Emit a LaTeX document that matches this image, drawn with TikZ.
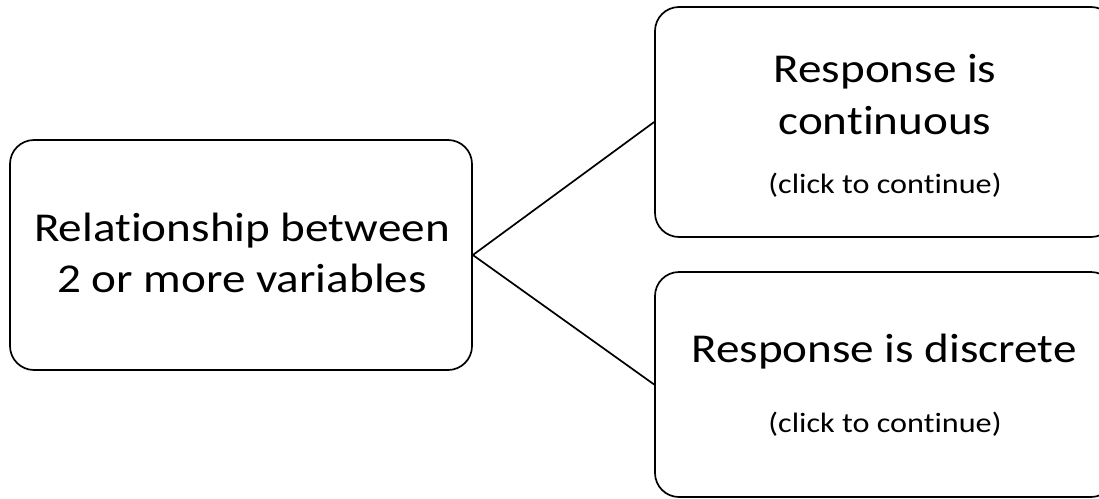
\documentclass[tikz,border=0pt]{standalone}
\usepackage{fontspec}
\setmainfont{Carlito}[Ligatures=NoCommon]
\newfontfamily\widefont{Carlito}[FakeStretch=1.15, Ligatures=NoCommon]
\begin{document}
\begin{tikzpicture}[x=1pt,y=-1pt,
  box/.style={draw, line width=1.7pt, rounded corners=24pt, inner sep=0pt},
  bigtxt/.style={anchor=base, align=center, inner sep=0pt, font=\widefont\fontsize{41}{51}\selectfont},
  smalltxt/.style={anchor=base, inner sep=0pt, font=\widefont\fontsize{28}{32}\selectfont},
  link/.style={line width=1.7pt}]
\useasboundingbox (0,0) rectangle (1099,498);
\node[box, minimum width=462pt, minimum height=230pt] (rel) at (241,255) {};
\node[box, minimum width=460pt, minimum height=230pt] (cont) at (885,122) {};
\node[box, minimum width=460pt, minimum height=225pt] (disc) at (885,384.5) {};
\node[bigtxt] (reltxt) at (242,292) {Relationship between\\2 or more variables};
\node[bigtxt, font=\widefont\fontsize{41}{52}\selectfont] (conttxt) at (885,134) {Response is\\continuous};
\node[smalltxt] (contclick) at (885,193) {(click to continue)};
\node[bigtxt] (disctxt) at (884,362) {Response is discrete};
\node[smalltxt] (discclick) at (885,432) {(click to continue)};
\draw[link] (rel.east) -- (cont.west);
\draw[link] (rel.east) -- (disc.west);
\end{tikzpicture}
\end{document}
